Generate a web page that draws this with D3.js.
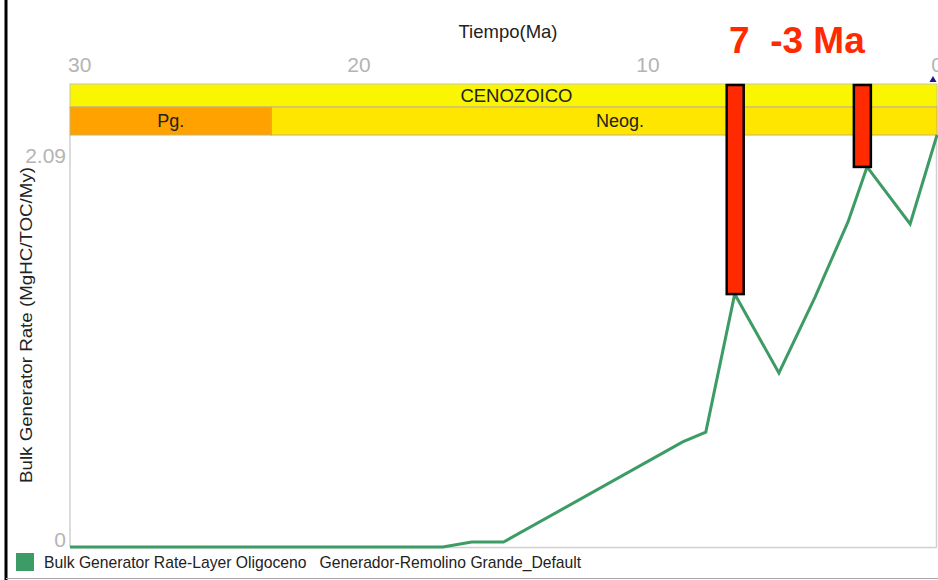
<!DOCTYPE html>
<html>
<head>
<meta charset="utf-8">
<script src="https://cdn.jsdelivr.net/npm/d3@7"></script>
<style>
  html, body { margin: 0; padding: 0; background: #fff; }
  svg { display: block; font-family: "Liberation Sans", Arial, sans-serif; }
</style>
</head>
<body>
<svg id="chart" width="938" height="580"></svg>
<script>
// Bulk generator rate history (Ma before present vs MgHC/TOC/My)
const ages   = [30, 17.1, 16.1, 15.0, 8.8, 8.0, 7.0, 5.47, 4.22, 3.08, 2.42, 0.93, 0];
const rates  = [0, 0, 0.025, 0.025, 0.533, 0.583, 1.283, 0.883, 1.268, 1.649, 1.928, 1.639, 2.09];

const xTicks = [30, 20, 10, 0];
const yTicks = [0, 2.09];

// Geological time bands (start, end in Ma)
const eraNames   = ["CENOZOICO"];
const eraStart   = [66];
const eraEnd     = [-1.1];
const periodNames = ["Pg.", "Neog."];
const periodStart = [66, 23.03];
const periodEnd   = [23.03, -1.1];

// Highlighted generation events
const eventAges = [7.0, 2.6];
const eventRates = [1.283, 1.928];

const seriesName = "Bulk Generator Rate-Layer Oligoceno   Generador-Remolino Grande_Default";

const svg = d3.select("#chart");
const plotL = 70, plotR = 937, plotT = 135, plotB = 547;
const bandTop = 84, bandMid = 107;

const x = d3.scaleLinear().domain([30, 0]).range([plotL, plotR]);
const y = d3.scaleLinear().domain([0, 2.09]).range([plotB, plotT]);

// outer frame
svg.append("line").attr("x1", 6).attr("x2", 6).attr("y1", 0).attr("y2", 580)
  .attr("stroke", "#000").attr("stroke-width", 3);
svg.append("line").attr("x1", 6).attr("x2", 938).attr("y1", 578.5).attr("y2", 578.5)
  .attr("stroke", "#aaa").attr("stroke-width", 1);

// axis title
svg.append("text").attr("x", 508).attr("y", 38).attr("text-anchor", "middle")
  .attr("font-size", 18.5).attr("fill", "#222").text("Tiempo(Ma)");

// x tick labels
const clamp = v => Math.max(plotL, Math.min(plotR, v));
svg.append("g").selectAll("text").data(xTicks).join("text")
  .attr("x", d => d === 30 ? x(d) - 2 : x(d))
  .attr("y", 72)
  .attr("text-anchor", d => d === 30 ? "start" : "middle")
  .attr("font-size", 21).attr("fill", "#b4b4b4").text(d => d);

// marker at present
svg.append("path")
  .attr("d", d3.symbol(d3.symbolTriangle, 22)())
  .attr("transform", `translate(${x(0) - 4},${bandTop - 4})`)
  .attr("fill", "#1a1a8a");

// plot frame lines
svg.append("line").attr("x1", plotL).attr("x2", plotL).attr("y1", plotT).attr("y2", plotB)
  .attr("stroke", "#d0d0d0").attr("stroke-width", 1.5);
svg.append("line").attr("x1", plotL).attr("x2", plotR).attr("y1", plotB + 0.5).attr("y2", plotB + 0.5)
  .attr("stroke", "#d0d0d0").attr("stroke-width", 1.5);
svg.append("line").attr("x1", plotR - 0.5).attr("x2", plotR - 0.5).attr("y1", bandTop).attr("y2", plotB)
  .attr("stroke", "#d0d0d0").attr("stroke-width", 1.5);

// time bands
const bands = svg.append("g");
const eraColor = "#faf500", periodColors = ["#ffa200", "#ffe600"];
eraNames.forEach((n, i) => {
  const x0 = clamp(x(eraStart[i])), x1 = clamp(x(eraEnd[i]));
  bands.append("rect").attr("x", x0).attr("y", bandTop).attr("width", x1 - x0)
    .attr("height", bandMid - bandTop).attr("fill", eraColor)
    .attr("stroke", "#c8c8a0").attr("stroke-width", 1);
  bands.append("text").attr("x", (x0 + x(eraEnd[i])) / 2 - 3).attr("y", bandMid - 5)
    .attr("text-anchor", "middle").attr("font-size", 18.5).attr("fill", "#222").text(n);
});
periodNames.forEach((n, i) => {
  const x0 = clamp(x(periodStart[i])), x1 = clamp(x(periodEnd[i]));
  bands.append("rect").attr("x", x0).attr("y", bandMid).attr("width", x1 - x0)
    .attr("height", plotT - bandMid).attr("fill", periodColors[i])
    .attr("stroke", "#c8b060").attr("stroke-width", 1);
  bands.append("text").attr("x", (x0 + x(periodEnd[i])) / 2).attr("y", plotT - 8)
    .attr("text-anchor", "middle").attr("font-size", 18).attr("fill", "#222").text(n);
});

// y tick labels
svg.append("g").selectAll("text").data(yTicks).join("text")
  .attr("x", 66).attr("y", d => d === 0 ? y(d) : y(d) + 28)
  .attr("text-anchor", "end").attr("font-size", 21).attr("fill", "#b4b4b4")
  .text(d => d);

// y axis title
svg.append("text")
  .attr("transform", "translate(32,325) rotate(-90)")
  .attr("text-anchor", "middle").attr("font-size", 17).attr("fill", "#222")
  .attr("textLength", 316).attr("lengthAdjust", "spacingAndGlyphs")
  .text("Bulk Generator Rate (MgHC/TOC/My)");

// series line
const line = d3.line().x((d, i) => x(ages[i])).y((d, i) => y(rates[i]));
svg.append("path").datum(rates).attr("d", line)
  .attr("fill", "none").attr("stroke", "#3d9b65").attr("stroke-width", 3)
  .attr("stroke-linejoin", "miter");

// event bars from top of band down to the generation rate reached
svg.append("g").selectAll("rect").data(eventAges).join("rect")
  .attr("x", d => x(d) - 8).attr("width", 17)
  .attr("y", bandTop + 1)
  .attr("height", (d, i) => y(eventRates[i]) - bandTop - 1)
  .attr("fill", "#ff2a00").attr("stroke", "#000").attr("stroke-width", 2.5);

// event label
svg.append("text").attr("x", 729).attr("y", 53)
  .attr("xml:space", "preserve").style("white-space", "pre")
  .attr("font-size", 37).attr("font-weight", "bold").attr("fill", "#ff2a00")
  .text("7  -3 Ma");

// legend
svg.append("rect").attr("x", 16).attr("y", 553).attr("width", 18).attr("height", 18)
  .attr("fill", "#3d9b65");
svg.append("text").attr("x", 44).attr("y", 568).attr("font-size", 15.7).attr("fill", "#222")
  .style("white-space", "pre").text(seriesName);
</script>
</body>
</html>
